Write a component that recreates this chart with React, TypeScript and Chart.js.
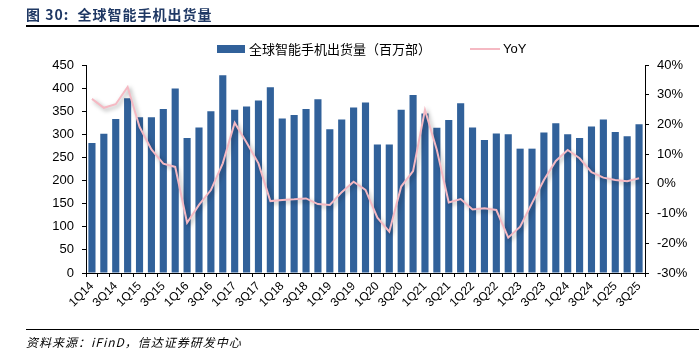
import React, { useEffect, useRef } from "react";
import { Chart, registerables } from "chart.js";

Chart.register(...registerables);

const quarters: string[] = [];
for (let y = 14; y <= 25; y++) {
  for (let q = 1; q <= 4; q++) {
    if (y === 25 && q > 3) break;
    quarters.push(`${q}Q${y}`);
  }
}

const shipments = [
  281, 301, 333, 378, 337, 337, 355, 399, 292, 315, 350, 428,
  353, 360, 373, 402, 334, 342, 355, 376, 311, 332, 358, 369,
  278, 278, 353, 385, 345, 314, 331, 367, 315, 288, 302, 300,
  269, 269, 304, 324, 300, 292, 317, 332, 305, 296, 322,
];

const yoy = [
  28.6, 25.6, 26.8, 32.6, 19.2, 11.6, 6.8, 5.7, -13.1, -7.1, -2.1, 6.9,
  20.6, 13.9, 6.9, -5.8, -5.4, -5.2, -4.9, -6.8, -7.1, -2.8, 0.7, -2.0,
  -11.4, -16.1, -0.9, 4.3, 24.9, 11.4, -6.3, -5.1, -8.6, -8.2, -8.8, -18.1,
  -14.4, -6.5, 1.3, 7.7, 11.4, 8.6, 3.9, 2.1, 1.3, 0.9, 1.9,
];

const leftTicks = [0, 50, 100, 150, 200, 250, 300, 350, 400, 450];
const rightTicks = [-30, -20, -10, 0, 10, 20, 30, 40];

const BAR_COLOR = "#31619a";
const LINE_COLOR = "#f5b9c3";

const shadowPlugin = {
  id: "lineShadow",
  beforeDatasetDraw(chart: any, args: any) {
    if (args.index === 1) {
      const ctx = chart.ctx;
      ctx.save();
      ctx.shadowColor = "rgba(0,0,0,0.35)";
      ctx.shadowBlur = 4;
      ctx.shadowOffsetX = 2;
      ctx.shadowOffsetY = 2;
    }
  },
  afterDatasetDraw(chart: any, args: any) {
    if (args.index === 1) {
      chart.ctx.restore();
    }
  },
};

export default function App() {
  const ref = useRef<HTMLCanvasElement>(null);

  useEffect(() => {
    if (!ref.current) return;
    const tickFont = { family: "'Liberation Sans', Arial, sans-serif", size: 13 };
    const chart = new Chart(ref.current, {
      type: "bar",
      data: {
        labels: quarters,
        datasets: [
          {
            type: "bar",
            label: "全球智能手机出货量（百万部）",
            data: shipments,
            backgroundColor: BAR_COLOR,
            yAxisID: "y",
            categoryPercentage: 1,
            barPercentage: 0.6,
            order: 2,
          },
          {
            type: "line",
            label: "YoY",
            data: yoy,
            borderColor: LINE_COLOR,
            borderWidth: 2,
            pointRadius: 0,
            tension: 0,
            yAxisID: "y1",
            order: 1,
          } as any,
        ],
      },
      options: {
        animation: false,
        responsive: false,
        maintainAspectRatio: false,
        layout: { padding: { top: 65, left: 0, right: 0, bottom: 0 } },
        plugins: {
          legend: { display: false },
          tooltip: { enabled: false },
          title: { display: false },
        },
        scales: {
          x: {
            offset: true,
            grid: {
              display: true,
              offset: true,
              drawOnChartArea: false,
              drawTicks: true,
              tickLength: 4,
              color: "#000",
            },
            border: { color: "#000", width: 1 },
            ticks: {
              autoSkip: false,
              maxRotation: 45,
              minRotation: 45,
              color: "#000",
              font: { ...tickFont, size: 12 },
              padding: 2,
              callback: (_v: any, i: number) => (i % 2 === 0 ? quarters[i] : ""),
            },
            afterFit: (s: any) => {
              s.height = 80;
            },
          },
          y: {
            position: "left",
            min: 0,
            max: 450,
            afterBuildTicks: (s: any) => {
              s.ticks = leftTicks.map((v) => ({ value: v }));
            },
            grid: {
              display: true,
              drawOnChartArea: false,
              drawTicks: true,
              tickLength: 4,
              color: "#000",
            },
            border: { color: "#000", width: 1 },
            ticks: { color: "#000", font: tickFont, padding: 8 },
            afterFit: (s: any) => {
              s.width = 86;
            },
          },
          y1: {
            position: "right",
            min: -30,
            max: 40,
            afterBuildTicks: (s: any) => {
              s.ticks = rightTicks.map((v) => ({ value: v }));
            },
            grid: {
              display: true,
              drawOnChartArea: false,
              drawTicks: true,
              tickLength: 4,
              color: "#000",
            },
            border: { color: "#000", width: 1 },
            ticks: {
              color: "#000",
              font: tickFont,
              padding: 8,
              callback: (v: any) => `${v}%`,
            },
            afterFit: (s: any) => {
              s.width = 54;
            },
          },
        },
      },
      plugins: [shadowPlugin],
    });
    return () => chart.destroy();
  }, []);

  const cjk = "'Noto Sans CJK SC', 'Noto Sans', sans-serif";

  return (
    <div style={{ position: "absolute", left: 0, top: 0, width: 699, height: 353, background: "#fff", overflow: "hidden" }}>
      <canvas ref={ref} width={699} height={353} style={{ position: "absolute", left: 0, top: 0 }} />
      <div
        style={{
          position: "absolute",
          left: 26,
          top: 5,
          fontFamily: cjk,
          fontWeight: 700,
          fontSize: 14,
          letterSpacing: 1,
          color: "#1f3864",
          whiteSpace: "nowrap",
          lineHeight: "18px",
        }}
      >
        图 30:&nbsp;&nbsp;全球智能手机出货量
      </div>
      <div style={{ position: "absolute", left: 26, right: 0, top: 25, height: 2, background: "#000" }} />
      {/* legend */}
      <div style={{ position: "absolute", left: 217, top: 45, width: 28, height: 8, background: BAR_COLOR }} />
      <div
        style={{
          position: "absolute",
          left: 249,
          top: 40,
          fontFamily: cjk,
          fontSize: 13,
          color: "#000",
          whiteSpace: "nowrap",
          lineHeight: "17px",
        }}
      >
        全球智能手机出货量（百万部）
      </div>
      <div style={{ position: "absolute", left: 470, top: 48, width: 30, height: 2, background: LINE_COLOR }} />
      <div
        style={{
          position: "absolute",
          left: 503,
          top: 40,
          fontFamily: "'Liberation Sans', Arial, sans-serif",
          fontSize: 13,
          color: "#000",
          whiteSpace: "nowrap",
          lineHeight: "17px",
        }}
      >
        YoY
      </div>
      <div style={{ position: "absolute", left: 26, right: 0, top: 329, height: 1, background: "#000" }} />
      <div
        style={{
          position: "absolute",
          left: 26,
          top: 334,
          fontFamily: cjk,
          fontStyle: "italic",
          fontSize: 12,
          letterSpacing: 1,
          color: "#000",
          whiteSpace: "nowrap",
          lineHeight: "16px",
        }}
      >
        资料来源：iFinD，信达证券研发中心
      </div>
    </div>
  );
}
